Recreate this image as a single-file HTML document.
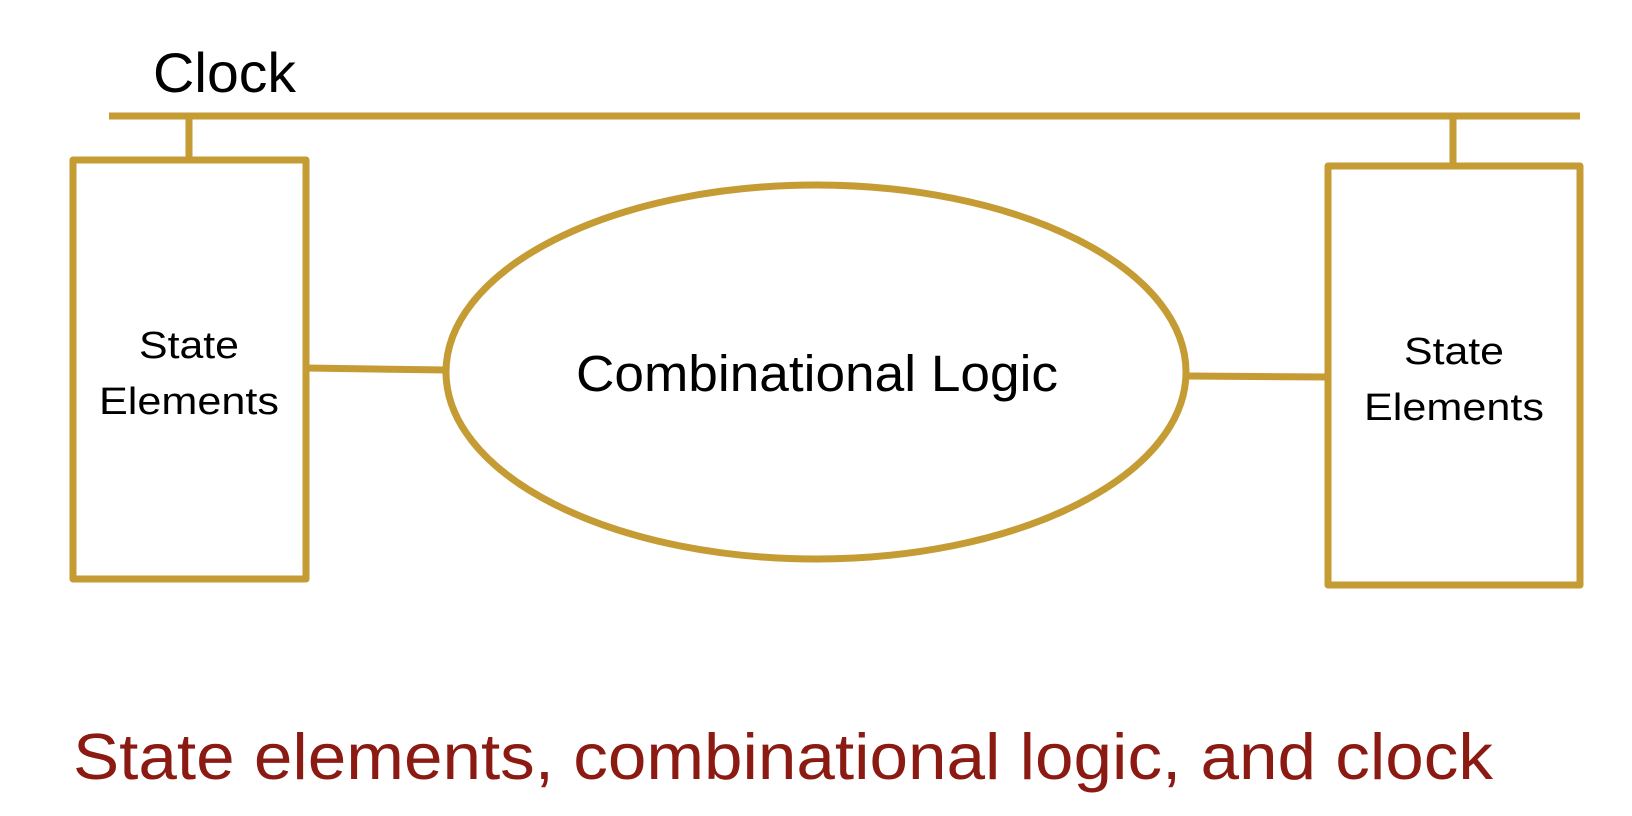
<!DOCTYPE html>
<html><head><meta charset="utf-8"><style>html,body{margin:0;padding:0;background:#fff;}svg{display:block}</style></head>
<body>
<svg width="1632" height="816" viewBox="0 0 1632 816" xmlns="http://www.w3.org/2000/svg">
<g stroke="#C59B34" stroke-width="7" fill="none" stroke-linejoin="round">
<line x1="109" y1="116" x2="1580" y2="116"/>
<line x1="189" y1="116" x2="189" y2="160"/>
<line x1="1453" y1="116" x2="1453" y2="166"/>
<rect x="73" y="160" width="233" height="419" fill="#fff"/>
<rect x="1328" y="166" width="252" height="419" fill="#fff"/>
<ellipse cx="816" cy="372" rx="370" ry="187" fill="#fff"/>
<line x1="306" y1="368" x2="446" y2="370"/>
<line x1="1187" y1="376" x2="1328" y2="377"/>
</g>
<g font-family="Liberation Sans, sans-serif" fill="#000">
<text x="153" y="92" font-size="56" textLength="143" lengthAdjust="spacingAndGlyphs">Clock</text>
<text x="189" y="358" font-size="38" text-anchor="middle" textLength="100" lengthAdjust="spacingAndGlyphs">State</text>
<text x="189" y="414" font-size="38" text-anchor="middle" textLength="180" lengthAdjust="spacingAndGlyphs">Elements</text>
<text x="1454" y="364" font-size="38" text-anchor="middle" textLength="100" lengthAdjust="spacingAndGlyphs">State</text>
<text x="1454" y="420" font-size="38" text-anchor="middle" textLength="180" lengthAdjust="spacingAndGlyphs">Elements</text>
<text x="817" y="391" font-size="51" text-anchor="middle" textLength="482" lengthAdjust="spacingAndGlyphs">Combinational Logic</text>
<text x="73" y="779" font-size="65" fill="#8B1A12" textLength="1420" lengthAdjust="spacingAndGlyphs">State elements, combinational logic, and clock</text>
</g>
</svg>
</body></html>
